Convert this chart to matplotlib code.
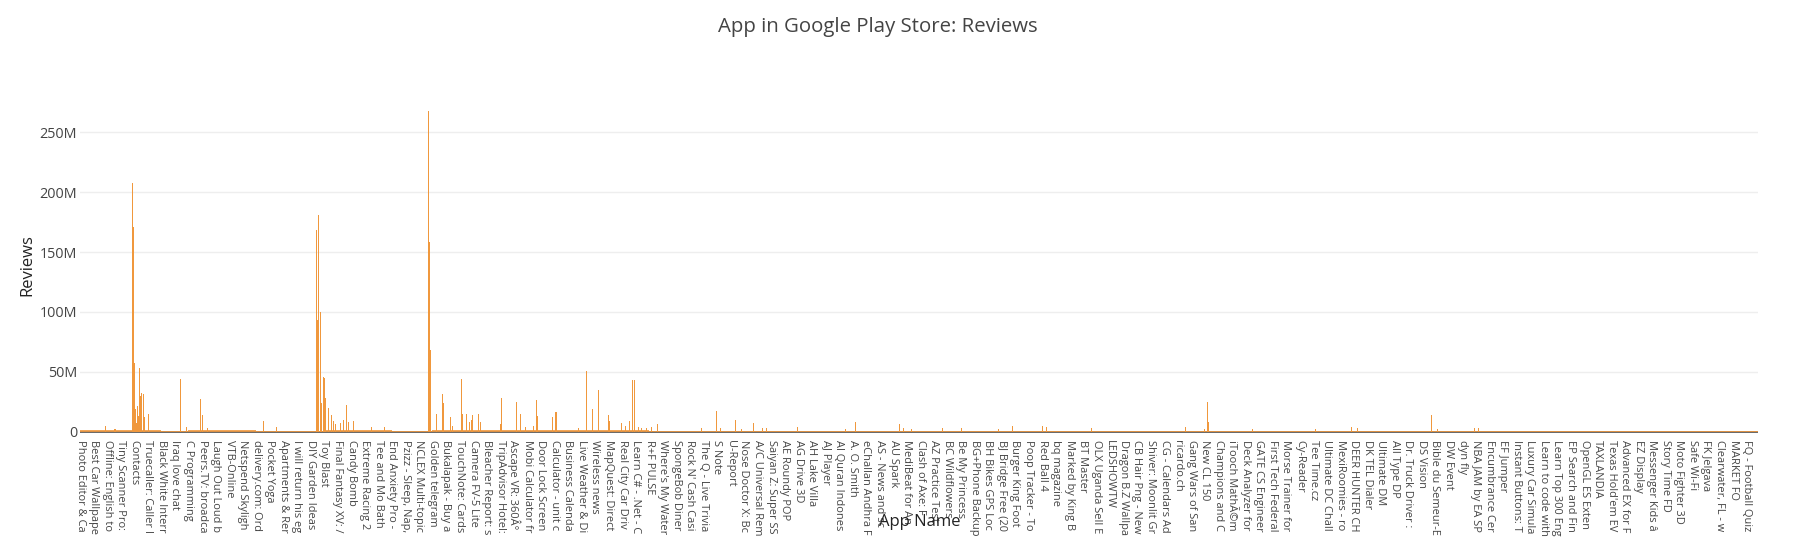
import numpy as np
import matplotlib as mpl
mpl.use("Agg")
import matplotlib.pyplot as plt
from matplotlib.ticker import FuncFormatter

# -----------------------------------------------------------
# Data
# -----------------------------------------------------------

n_apps = 9660          # number of app categories on the x axis
tick_step = 78         # one label every 78 apps

tick_names = [
    "Photo Editor & Ca", "Best Car Wallpape", "Offline: English to", "Tiny Scanner Pro:",
    "Contacts", "Truecaller: Caller I", "Black White Interr", "Iraq love chat",
    "C Programming", "Peers.TV: broadca", "Laugh Out Loud b", "VTB-Online",
    "Netspend Skyligh", "delivery.com: Ord", "Pocket Yoga", "Apartments & Rer",
    "I will return his eg", "DIY Garden Ideas", "Toy Blast", "Final Fantasy XV: /",
    "Candy Bomb", "Extreme Racing 2", "Tee and Mo Bath", "End Anxiety Pro -",
    "Pzizz - Sleep, Nap,", "NCLEX Multi-topic", "Golden telegram", "Bukalapak - Buy a",
    "TouchNote: Cards", "Camera FV-5 Lite", "Bleacher Report: s", "TripAdvisor Hotel:",
    "Ascape VR: 360Â°", "Mobi Calculator fr", "Door Lock Screen", "Calculator - unit c",
    "Business Calenda", "Live Weather & Di", "Wireless news", "MapQuest: Direct",
    "Real City Car Driv", "Learn C# - .Net - C", "R+F PULSE", "Where's My Water",
    "SpongeBob Diner", "Rock N' Cash Casi", "The Q - Live Trivia", "S Note",
    "U-Report", "Nose Doctor X: Bc", "A/C Universal Rem", "Saiyan Z: Super SS",
    "AE Roundy POP", "AG Drive 3D", "AH Lake Villa", "AJ Player",
    "Al Quran Indones", "A. O. Smith", "eChallan Andhra F", "AS - News and sc",
    "AU Spark", "MediBeat for An", "Clash of Axe: F", "AZ Practice Test",
    "BC Wildflowers", "Be My Princess", "BG+Phone Backup", "BH Bikes GPS Loc",
    "BJ Bridge Free (20", "Burger King Foot", "Poop Tracker - To", "Red Ball 4",
    "bq magazine", "Marked by King B", "BT Master", "OLX Uganda Sell E",
    "LEDSHOWTW", "Dragon B.Z Wallpa", "CB Hair Png - New", "Shiver: Moonlit Gr",
    "CG - Calendars Ad", "ricardo.ch", "Gang Wars of San", "New CL 150",
    "Champions and C", "iTooch MathÃ©m", "Deck Analyzer for", "GATE CS Engineer",
    "First Tech Federal", "Morse Trainer for", "Cy-Reader", "Tee Time.cz",
    "Ultimate DC Chall", "MexiRoomies - ro", "DEER HUNTER CH", "DK TEL Dialer",
    "Ultimate DM", "All Type DP", "Dr. Truck Driver :", "DS Vision",
    "Bible du Semeur-E", "DW Event", "dyn fly", "NBA JAM by EA SP",
    "Encumbrance Cer", "EF Jumper", "Instant Buttons: T", "Luxury Car Simula",
    "Learn to code with", "Learn Top 300 Eng", "EP Search and Fin", "OpenGL ES Exten",
    "TAXLANDIA", "Texas Hold'em EV", "Advanced EX for F", "EZ Display",
    "Messenger Kids â", "Story Time FD", "Moto Fighter 3D", "Safe Wi-Fi",
    "FK Jelgava", "Clearwater, FL - w", "MARKET FO", "FQ - Football Quiz",
]

# typical review count of the small apps in each block of 78 apps (millions)
block_reviews = [
    1.0, 1.0, 1.0, 1.0, 1.5, 1.0, 0.5, 0.3, 1.0, 1.0,
    1.0, 1.0, 1.0, 0.8, 0.8, 0.8, 0.8, 0.8, 1.5, 1.5,
    1.5, 1.2, 1.0, 0.6, 0.1, 0.5, 1.2, 1.2, 1.0, 1.0,
    1.0, 1.0, 1.0, 1.0, 1.0, 0.9, 0.9, 0.9, 0.9, 0.9,
    0.9, 0.9, 0.8, 0.8, 0.8, 0.8, 0.7, 0.8, 0.8, 0.7,
    0.8, 0.7, 0.8, 0.7, 0.7, 0.8, 0.7, 0.7, 0.7, 0.8,
    0.7, 0.7, 0.6, 0.7, 0.7, 0.6, 0.7, 0.7, 0.6, 0.7,
    0.7, 0.6, 0.7, 0.7, 0.6, 0.7, 0.7, 0.7, 0.6, 0.7,
    0.7, 0.6, 0.7, 0.7, 0.7, 0.7, 0.6, 0.7, 0.7, 0.6,
    0.7, 0.7, 0.6, 0.7, 0.6, 0.7, 0.7, 0.6, 0.7, 0.6,
    0.7, 0.6, 0.6, 0.7, 0.6, 0.6, 0.7, 0.6, 0.6, 0.6,
    0.6, 0.6, 0.6, 0.6, 0.6, 0.6, 0.6, 0.6, 0.6, 0.6,
    0.6, 0.6, 0.6, 0.6,
]

# apps that stand out (category index, reviews in millions)
peak_index = [
    144, 201, 301, 305, 311, 317, 322, 330, 336, 344, 349, 355, 363, 368, 395,
    576, 614, 691, 706, 731, 1057, 1132,
    1359, 1368, 1374, 1382, 1391, 1401, 1407, 1414, 1430, 1449, 1457, 1468,
    1497, 1518, 1535, 1545, 1576,
    1679, 1750, 2007, 2011, 2015, 2053, 2088, 2091, 2130, 2146,
    2197, 2203, 2226, 2240, 2251, 2261, 2295, 2303,
    2418, 2428, 2514, 2533, 2562, 2610, 2629, 2635, 2721, 2735, 2744,
    2869, 2917, 2951, 2986, 3042, 3047, 3119, 3142, 3161, 3182, 3191, 3214, 3234,
    3262, 3291, 3322, 3575, 3665, 3685, 3771, 3809, 3878, 3928, 3953, 4132,
    4404, 4462, 4715, 4740, 4788,
    4967, 5076, 5287, 5369, 5542, 5565, 5824, 6362, 6471, 6492, 6498,
    6749, 7110, 7321, 7356, 7782, 7816, 8027, 8050,
]
peak_reviews = [
    5, 2, 208, 171, 57, 19, 7, 21, 13, 53, 30, 32, 31, 12, 15,
    44, 4, 27, 14, 3, 9, 4,
    168, 93, 181, 100, 24, 46, 45, 28, 20, 14, 9, 6,
    7, 10, 22, 8, 9,
    4, 4, 268, 158, 68, 15, 31, 24, 12, 5,
    44, 15, 15, 8, 10, 14, 15, 8,
    6, 28, 25, 15, 4, 5, 26, 13, 12, 16, 16,
    3, 51, 19, 35, 14, 9, 7, 5, 9, 43, 43, 4, 3,
    3, 4, 6, 3, 17, 3, 10, 2, 7, 3, 3, 4,
    2, 8, 6, 3, 2,
    3, 3, 2, 5, 5, 4, 3, 4, 2, 25, 8,
    2, 2, 3.5, 3, 13.5, 2, 3, 3,
]

# -----------------------------------------------------------

bar_color = '#F0983D'
text_color = '#444444'
font = 'Open Sans'


def millions(value, pos):
    """Tick formatter: 50000000 -> 50M."""
    if value == 0:
        return "0"
    return "%dM" % round(value / 1e6)


def plot():
    fig = plt.figure(figsize=(18.03, 5.5), dpi=100)
    ax = fig.add_axes([80 / 1803, 117 / 550, 1678 / 1803, 339 / 550])

    # background of small apps, one bar per labelled block
    block_x = np.arange(len(block_reviews)) * tick_step - 0.5
    ax.bar(block_x, np.array(block_reviews) * 1e6, width=tick_step, align='edge',
           color=bar_color, alpha=0.85, linewidth=0, zorder=3)

    # the big ones
    ax.bar(peak_index, np.array(peak_reviews) * 1e6, width=6,
           color=bar_color, linewidth=0, zorder=3)

    ax.set_xlim(-0.5, n_apps - 0.5)
    ax.set_ylim(-1.2e6, 282e6)

    # grid / zero line
    ax.set_yticks(np.arange(0, 251e6, 50e6))
    ax.yaxis.set_major_formatter(FuncFormatter(millions))
    ax.grid(axis='y', color='#eeeeee', linewidth=1, zorder=0)
    ax.axhline(-0.6e6, color='#444444', linewidth=1.1, zorder=2)
    ax.set_axisbelow(True)
    for side in ['top', 'bottom', 'left', 'right']:
        ax.spines[side].set_visible(False)

    ax.set_xticks(np.arange(len(tick_names)) * tick_step)
    ax.set_xticklabels(tick_names, rotation=-90, fontsize=7.9, family=font,
                       color=text_color, va='top', ha='center')
    ax.tick_params(axis='x', length=0, pad=5)
    ax.tick_params(axis='y', length=0, pad=2, labelsize=10.4, labelcolor=text_color)
    for lab in ax.get_yticklabels():
        lab.set_family(font)

    # titles
    fig.text(878 / 1803, 1 - 27 / 550, "App in Google Play Store: Reviews",
             ha='center', va='center', fontsize=14.7, family=font, color=text_color)
    fig.text(27 / 1803, 1 - 265 / 550, "Reviews", rotation=90, ha='center',
             va='center', fontsize=12, family=font, color='#222222')
    fig.text(920 / 1803, 1 - 522 / 550, "App Name", ha='center', va='center',
             fontsize=12, family=font, color='#222222')

    fig.savefig('out.png', dpi=100, facecolor='white')


if __name__ == "__main__":
    plot()
